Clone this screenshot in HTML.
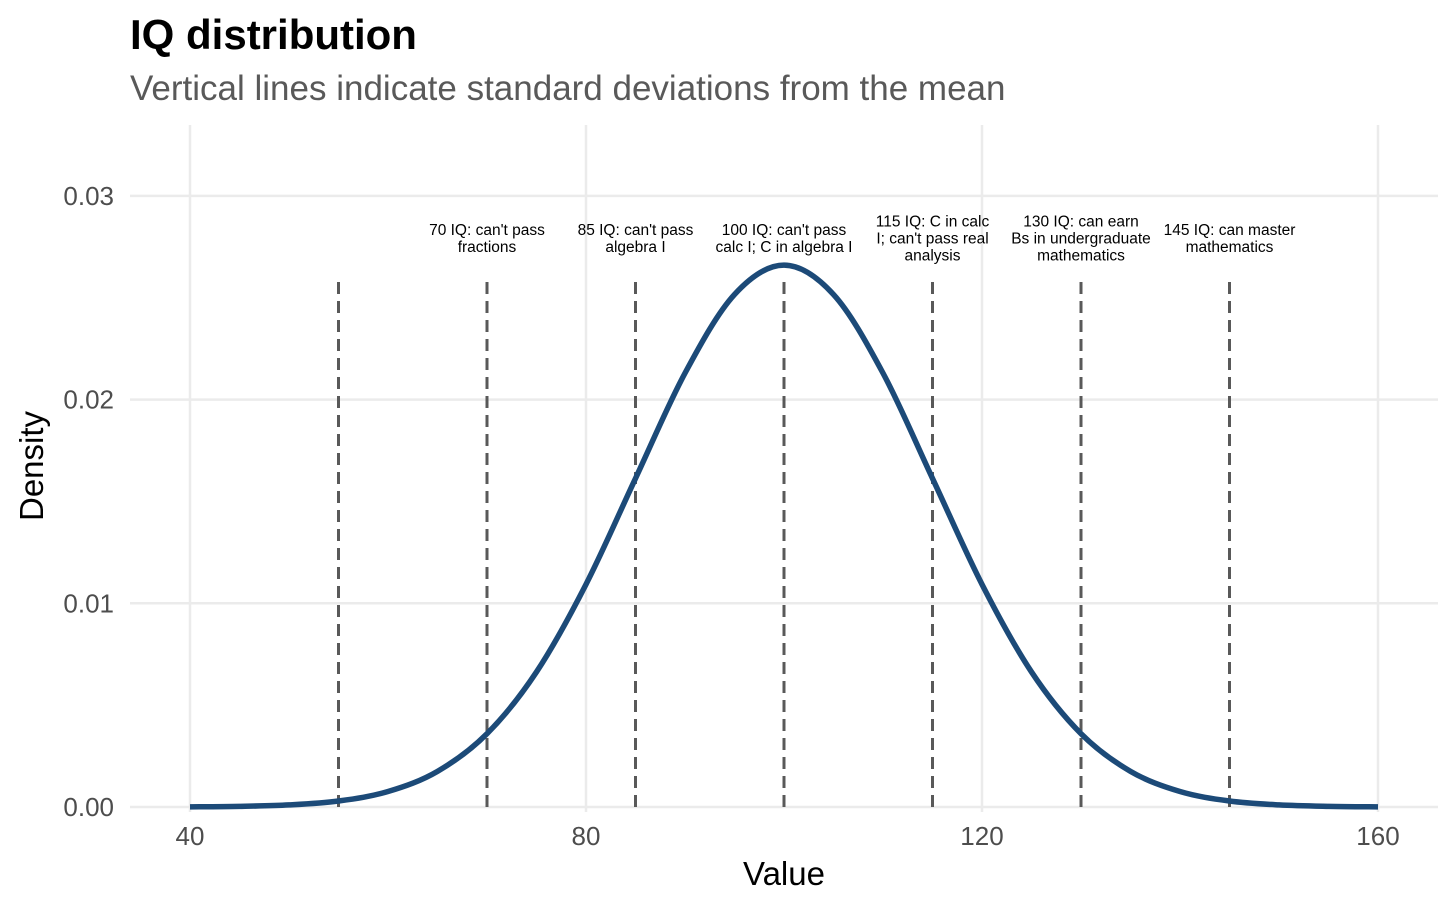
<!DOCTYPE html>
<html><head><meta charset="utf-8"><style>
body{margin:0;background:#fff;}
svg{display:block;font-family:"Liberation Sans",Arial,sans-serif;}
</style></head><body>
<svg id="chart" width="1456" height="910" viewBox="0 0 1456 910">
<text x="130" y="49" font-size="42" font-weight="bold" fill="#000">IQ distribution</text>
<text x="130" y="100" font-size="35" fill="#595959">Vertical lines indicate standard deviations from the mean</text>
<g id="grid"></g>
<g id="marks"></g>
<g id="axes"></g>
<text x="784" y="885" font-size="33" text-anchor="middle" fill="#000">Value</text>
<text transform="translate(43,466) rotate(-90)" font-size="33" text-anchor="middle" fill="#000">Density</text>
</svg>
<script>
const xTicks=[40,80,120,160];
const yTicks=[0,0.01,0.02,0.03];
const yTickLabels=["0.00","0.01","0.02","0.03"];
const curveX=[40,45,50,55,60,65,70,75,80,85,90,95,100,105,110,115,120,125,130,135,140,145,150,155,160];
const curveY=[0.0000089,0.000032,0.000103,0.000295,0.00076,0.00175,0.0036,0.00663,0.01093,0.01613,0.0213,0.02516,0.0266,0.02516,0.0213,0.01613,0.01093,0.00663,0.0036,0.00175,0.00076,0.000295,0.000103,0.000032,0.0000089];
const sdLines=[55,70,85,100,115,130,145];
const lineTop=0.026;
const labelX=[70,85,100,115,130,145];
const labelText=[["70 IQ: can't pass","fractions"],["85 IQ: can't pass","algebra I"],["100 IQ: can't pass","calc I; C in algebra I"],["115 IQ: C in calc","I; can't pass real","analysis"],["130 IQ: can earn","Bs in undergraduate","mathematics"],["145 IQ: can master","mathematics"]];
const labelY=0.0279;

const NS="http://www.w3.org/2000/svg";
const sx=v=>190+(v-40)*(1188/120);
const sy=v=>807-v*20370;
function mk(tag,attrs,parent){const e=document.createElementNS(NS,tag);for(const k in attrs)e.setAttribute(k,attrs[k]);parent.appendChild(e);return e;}
const grid=document.getElementById('grid'),marks=document.getElementById('marks'),axes=document.getElementById('axes');
xTicks.forEach(t=>{
  const l=mk('line',{x1:sx(t),x2:sx(t),y1:125,y2:812,stroke:'#ebebeb','stroke-width':2.5},grid);
  
  
  const tx=mk('text',{x:sx(t),y:845,'font-size':26,'text-anchor':'middle',fill:'#4d4d4d'},axes);
  tx.textContent=t;
  
  
});
yTicks.forEach((t,i)=>{
  const l=mk('line',{x1:130,x2:1438,y1:sy(t),y2:sy(t),stroke:'#ebebeb','stroke-width':2.5},grid);
  
  
  const tx=mk('text',{x:114,y:sy(t)+9,'font-size':26,'text-anchor':'end',fill:'#4d4d4d'},axes);
  tx.textContent=yTickLabels[i];
  
  
});
sdLines.forEach(v=>{
  const l=mk('line',{x1:sx(v),x2:sx(v),y1:sy(0),y2:sy(lineTop),stroke:'#595959','stroke-width':3,'stroke-dasharray':'12 7'},marks);
  
  
});
const pts=curveX.map((x,i)=>[sx(x),sy(curveY[i])]);
let d='M'+pts[0][0]+','+pts[0][1];
for(let i=0;i<pts.length-1;i++){
  const p0=pts[Math.max(0,i-1)],p1=pts[i],p2=pts[i+1],p3=pts[Math.min(pts.length-1,i+2)];
  const c1=[p1[0]+(p2[0]-p0[0])/6,p1[1]+(p2[1]-p0[1])/6];
  const c2=[p2[0]-(p3[0]-p1[0])/6,p2[1]-(p3[1]-p1[1])/6];
  d+=` C${c1[0]},${c1[1]} ${c2[0]},${c2[1]} ${p2[0]},${p2[1]}`;
}
const path=mk('path',{d:d,fill:'none',stroke:'#1c4a78','stroke-width':5.5,'stroke-linejoin':'round'},marks);


labelX.forEach((v,i)=>{
  const lines=labelText[i];
  const cy=sy(labelY);
  const t=mk('text',{x:sx(v),'font-size':15.5,'text-anchor':'middle',fill:'#000'},marks);
  
  
  lines.forEach((s,j)=>{
    const ts=mk('tspan',{x:sx(v),y:cy+5+(j-(lines.length-1)/2)*17},t);
    ts.textContent=s;
  });
});
</script>
</body></html>
